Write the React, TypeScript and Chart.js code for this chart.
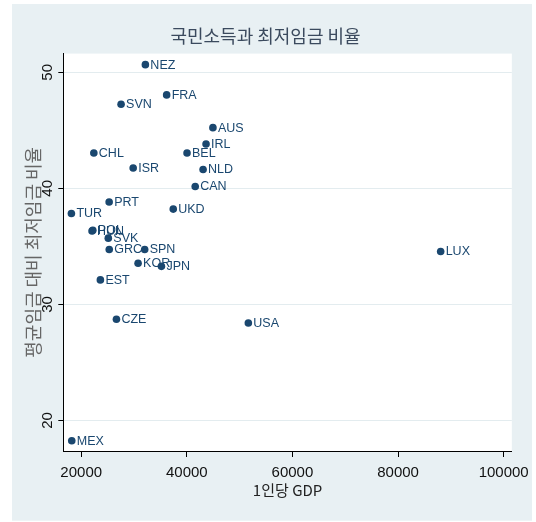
import React, { useEffect, useRef } from 'react';
import { Chart, registerables } from 'chart.js';

Chart.register(...registerables);

const countries = ['NEZ', 'FRA', 'SVN', 'CHL', 'ISR', 'PRT', 'TUR', 'HUN', 'POL', 'SVK', 'GRC', 'SPN', 'KOR', 'JPN', 'EST', 'CZE', 'AUS', 'IRL', 'BEL', 'NLD', 'CAN', 'UKD', 'LUX', 'USA', 'MEX'];
const gdpPerCapita = [32150, 36180, 27550, 22390, 29840, 25290, 18140, 22050, 22200, 25130, 25310, 32020, 30770, 35190, 23630, 26670, 44940, 43640, 40040, 43080, 41590, 37430, 88070, 51650, 18210];
const minWageRatio = [50.66, 48.05, 47.24, 43.05, 41.75, 38.82, 37.83, 36.32, 36.38, 35.71, 34.73, 34.73, 33.55, 33.28, 32.11, 28.72, 45.23, 43.82, 43.05, 41.63, 40.16, 38.21, 34.56, 28.4, 18.25];
const xTickValues = [20000, 40000, 60000, 80000, 100000];
const yTickValues = [20, 30, 40, 50];

const chartTitle = '국민소득과 최저임금 비율';
const xTitle = '1인당 GDP';
const yTitle = '평균임금 대비 최저임금 비율';

const MARKER = '#1a476f';

const backgroundPlugin = {
  id: 'stataBackground',
  beforeDraw(chart: any) {
    const { ctx, chartArea } = chart;
    ctx.save();
    ctx.fillStyle = '#e8f0f3';
    ctx.fillRect(12, 4, 520, 516.7);
    ctx.fillStyle = '#ffffff';
    ctx.fillRect(chartArea.left, chartArea.top, chartArea.right - chartArea.left, chartArea.bottom - chartArea.top);
    ctx.restore();
  },
};

const labelPlugin = {
  id: 'markerLabels',
  afterDatasetsDraw(chart: any) {
    const { ctx } = chart;
    const meta = chart.getDatasetMeta(0);
    ctx.save();
    ctx.font = '12.5px "Liberation Sans Narrow", "Liberation Sans", sans-serif';
    ctx.fillStyle = MARKER;
    ctx.textAlign = 'left';
    ctx.textBaseline = 'middle';
    meta.data.forEach((el: any, i: number) => {
      ctx.fillText(countries[i], el.x + 5, el.y + 0.5);
    });
    ctx.restore();
  },
};

export default function App() {
  const canvasRef = useRef<HTMLCanvasElement | null>(null);

  useEffect(() => {
    if (!canvasRef.current) return;
    const chart = new Chart(canvasRef.current, {
      type: 'scatter',
      data: {
        datasets: [
          {
            data: countries.map((_, i) => ({ x: gdpPerCapita[i], y: minWageRatio[i] })),
            backgroundColor: MARKER,
            borderColor: MARKER,
            borderWidth: 0,
            pointRadius: 3.8,
            pointHoverRadius: 3.8,
          },
        ],
      },
      options: {
        animation: false,
        responsive: false,
        devicePixelRatio: 1,
        layout: { padding: { left: 12, right: 17, top: 4, bottom: 2 } },
        plugins: {
          legend: { display: false },
          tooltip: { enabled: false },
          title: {
            display: true,
            text: chartTitle,
            color: '#3b4a5e',
            font: { family: '"Noto Sans CJK KR", sans-serif', size: 18, weight: 'normal' },
            padding: { top: 21, bottom: 7 },
          },
        },
        scales: {
          x: {
            type: 'linear',
            min: 16608,
            max: 101547,
            afterBuildTicks: (s: any) => {
              s.ticks = xTickValues.map((v) => ({ value: v }));
            },
            afterFit: (s: any) => {
              s.height = 69;
            },
            grid: { drawOnChartArea: false, tickLength: 6, tickColor: '#000', color: '#000' },
            border: { color: '#000', width: 1 },
            ticks: {
              color: '#111',
              padding: 7,
              maxRotation: 0,
              font: { family: '"Liberation Sans Narrow", "Liberation Sans", sans-serif', size: 15 },
              callback: (v: any) => String(v),
            },
            title: {
              display: true,
              text: xTitle,
              color: '#222',
              font: { family: '"Liberation Sans Narrow", "Noto Sans CJK KR", sans-serif', size: 15 },
              padding: { top: 0, bottom: 21 },
            },
          },
          y: {
            type: 'linear',
            min: 17.37,
            max: 51.61,
            afterBuildTicks: (s: any) => {
              s.ticks = yTickValues.map((v) => ({ value: v }));
            },
            afterFit: (s: any) => {
              s.width = 51.3;
            },
            grid: { color: '#e3ecef', lineWidth: 1, tickLength: 5, tickColor: '#000' },
            border: { color: '#000', width: 1 },
            ticks: {
              color: '#111',
              padding: 2,
              minRotation: 90,
              maxRotation: 90,
              crossAlign: 'center',
              font: { family: '"Liberation Sans", sans-serif', size: 15 },
              callback: (v: any) => String(v),
            },
            title: {
              display: true,
              text: yTitle,
              color: '#666',
              font: { family: '"Noto Sans CJK KR", sans-serif', size: 18 },
              padding: { top: 10.5, bottom: 0 },
            },
          },
        },
      } as any,
      plugins: [backgroundPlugin, labelPlugin],
    });
    return () => chart.destroy();
  }, []);

  return (
    <div style={{ position: 'fixed', left: 0, top: 0, width: 536, height: 522 }}>
      <canvas ref={canvasRef} width={536} height={522} style={{ display: 'block' }} />
    </div>
  );
}
